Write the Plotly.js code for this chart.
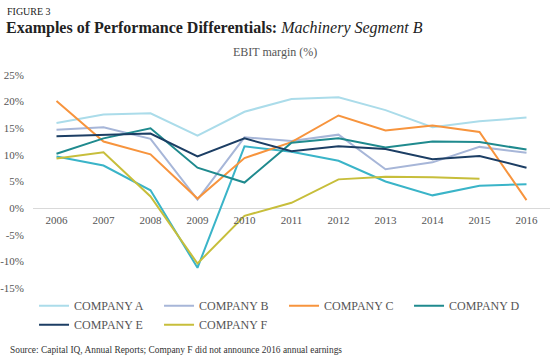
<!DOCTYPE html>
<html>
<head>
<meta charset="utf-8">
<script src="https://cdn.plot.ly/plotly-3.0.1.min.js"></script>
<style>
  html, body { margin: 0; padding: 0; background: #ffffff; }
  #chart { width: 550px; height: 363px; }
</style>
</head>
<body>
<div id="chart"></div>
<script>
// ---- Data (EBIT margin, %) ----
const years = ["2006", "2007", "2008", "2009", "2010", "2011", "2012", "2013", "2014", "2015", "2016"];
const companyA = [16.0, 17.6, 17.8, 13.6, 18.1, 20.5, 20.8, 18.4, 15.2, 16.3, 17.0];
const companyB = [14.7, 15.2, 13.0, 1.6, 13.3, 12.6, 13.8, 7.3, 8.6, 11.5, 10.4];
const companyC = [20.1, 12.5, 10.1, 1.8, 9.4, 12.4, 17.4, 14.6, 15.5, 14.3, 1.5];
const companyD = [10.2, 13.1, 15.0, 7.6, 4.8, 12.3, 13.1, 11.4, 12.5, 12.4, 11.0];
const companyE = [13.5, 13.8, 14.0, 9.7, 13.1, 10.7, 11.6, 11.1, 9.2, 9.8, 7.6];
const companyF = [9.3, 10.5, 2.2, -10.4, -1.45, 1.0, 5.4, 5.9, 5.8, 5.5, null];
const unlabeled = [9.7, 8.0, 3.35, -11.2, 11.6, 10.6, 8.9, 5.0, 2.4, 4.2, 4.5];
const yTicks = [-15, -10, -5, 0, 5, 10, 15, 20, 25];
const yTickLabels = ["-15%", "-10%", "-5%", "0%", "5%", "10%", "15%", "20%", "25%"];
const legendNames = ["COMPANY A", "COMPANY B", "COMPANY C", "COMPANY D", "COMPANY E", "COMPANY F"];

const serif = "Liberation Serif, Times New Roman, serif";

function line(name, y, color, show) {
  return {
    type: "scatter", mode: "lines", name: name, x: years, y: y,
    line: { color: color, width: 2 }, showlegend: show,
    connectgaps: false, hoverinfo: "x+y+name"
  };
}

const traces = [
  line("Company G", unlabeled, "#3ab4c8", false),
  line(legendNames[0], companyA, "#abdcea", true),
  line(legendNames[1], companyB, "#a7b6d8", true),
  line(legendNames[2], companyC, "#f7943d", true),
  line(legendNames[3], companyD, "#1f8a8e", true),
  line(legendNames[4], companyE, "#1c3e64", true),
  line(legendNames[5], companyF, "#c7be3b", true)
];

const layout = {
  width: 550, height: 363,
  paper_bgcolor: "#ffffff", plot_bgcolor: "#ffffff",
  margin: { l: 33, r: 0, t: 75, b: 75 },
  font: { family: serif, color: "#555555", size: 11 },
  title: {
    text: "<b>Examples of Performance Differentials:</b> <i>Machinery Segment B</i>",
    font: { family: serif, size: 16, color: "#222222" },
    xref: "container", yref: "container",
    x: 6 / 550, xanchor: "left", y: 1 - 27 / 363, yanchor: "middle"
  },
  xaxis: {
    type: "category", range: [-0.5, 10.5],
    anchor: "free", position: 0.375,
    showgrid: false, showline: false, zeroline: false, ticks: "",
    ticklabelstandoff: 4,
    tickfont: { family: serif, size: 11, color: "#555555" }
  },
  yaxis: {
    range: [-15, 25], tickvals: yTicks, ticktext: yTickLabels,
    showgrid: false, showline: false, ticks: "",
    zeroline: true, zerolinecolor: "#d9d9d9", zerolinewidth: 1,
    ticklabelstandoff: 8,
    tickfont: { family: serif, size: 11, color: "#555555" }
  },
  showlegend: true,
  legend: {
    orientation: "h", x: 0.002, xanchor: "left", y: -0.015, yanchor: "top",
    entrywidth: 80, entrywidthmode: "pixels", itemwidth: 30,
    font: { family: serif, size: 12, color: "#555555" },
    traceorder: "normal", tracegroupgap: 0
  },
  annotations: [
    { text: "FIGURE 3", xref: "paper", yref: "paper",
      x: (5 - 33) / 517, xanchor: "left", y: 1 + (75 - 11) / 213, yanchor: "middle",
      showarrow: false, font: { family: serif, size: 10, color: "#222222" } },
    { text: "EBIT margin (%)", xref: "paper", yref: "paper",
      x: (275 - 33) / 517, xanchor: "center", y: 1 + (75 - 52) / 213, yanchor: "middle",
      showarrow: false, font: { family: serif, size: 12, color: "#555555" } },
    { text: "Source: Capital IQ, Annual Reports; Company F did not announce 2016 annual earnings",
      xref: "paper", yref: "paper",
      x: (8 - 33) / 517, xanchor: "left", y: -(350 - 288) / 213, yanchor: "middle",
      showarrow: false, font: { family: serif, size: 9.4, color: "#333333" } }
  ]
};

Plotly.newPlot("chart", traces, layout, { displayModeBar: false, staticPlot: true });
</script>
</body>
</html>
